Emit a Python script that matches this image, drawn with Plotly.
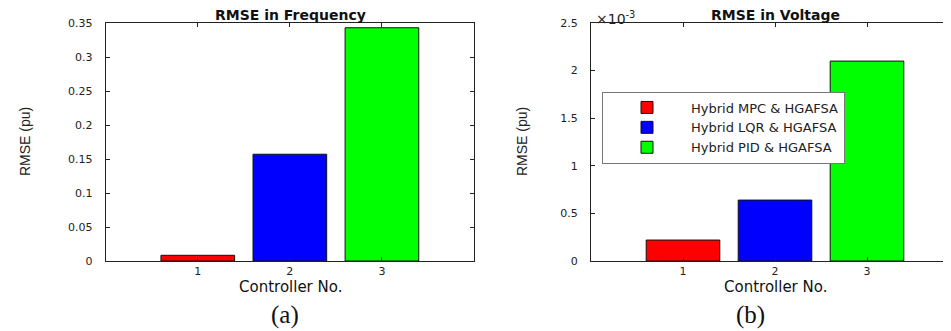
import plotly.graph_objects as go

controllers = [1, 2, 3]
series_names = ["Hybrid MPC & HGAFSA", "Hybrid LQR & HGAFSA", "Hybrid PID & HGAFSA"]
colors = ["#ff0000", "#0000ff", "#00ff00"]
rmse_frequency = [0.0084, 0.157, 0.343]
rmse_voltage = [0.00022, 0.00064, 0.00210]

freq_ticks = [0, 0.05, 0.1, 0.15, 0.2, 0.25, 0.3, 0.35]
freq_ticktext = ["0", "0.05", "0.1", "0.15", "0.2", "0.25", "0.3", "0.35"]
volt_ticks = [0, 0.0005, 0.001, 0.0015, 0.002, 0.0025]
volt_ticktext = ["0", "0.5", "1", "1.5", "2", "2.5"]

W, H = 951, 331
OFF = 8  # page body margin


def px(x):
    return (x - OFF) / W


def py(y):
    return (H - (y - OFF)) / H


TICKFONT = dict(family="DejaVu Sans", size=11, color="#222")

fig = go.Figure()
for c, v, n, col in zip(controllers, rmse_frequency, series_names, colors):
    fig.add_trace(go.Bar(x=[c], y=[v], width=0.8, name=n, marker=dict(color=col, line=dict(color="#111", width=1)),
                         xaxis="x", yaxis="y", showlegend=False))
for c, v, n, col in zip(controllers, rmse_voltage, series_names, colors):
    fig.add_trace(go.Bar(x=[c], y=[v], width=0.8, name=n, marker=dict(color=col, line=dict(color="#111", width=1)),
                         xaxis="x2", yaxis="y2", showlegend=True))

ydom = [py(261), py(23)]
common_x = dict(range=[0, 4], tickvals=controllers, ticks="inside", ticklen=4, tickcolor="#222",
                showline=True, linecolor="#222", linewidth=1, showgrid=False, zeroline=False, automargin=False,
                tickfont=TICKFONT, ticklabelstandoff=0)
common_y = dict(ticks="inside", ticklen=4, tickcolor="#222", showline=True, linecolor="#222", linewidth=1,
                showgrid=False, zeroline=False, automargin=False, tickfont=TICKFONT, ticklabelstandoff=10)

fig.update_layout(
    width=W, height=H, margin=dict(l=0, r=0, t=0, b=0),
    paper_bgcolor="white", plot_bgcolor="white",
    xaxis=dict(common_x, domain=[px(105.7), px(474)], anchor="y", mirror="allticks"),
    yaxis=dict(common_y, domain=ydom, anchor="x", range=[0, 0.35], tickvals=freq_ticks, ticktext=freq_ticktext, mirror="allticks"),
    xaxis2=dict(common_x, domain=[px(591), 1.0], anchor="y2", mirror="allticks"),
    yaxis2=dict(common_y, domain=ydom, anchor="x2", range=[0, 0.0025], tickvals=volt_ticks, ticktext=volt_ticktext),
    legend=dict(x=px(602), y=py(127.5), xanchor="left", yanchor="middle", bgcolor="white",
                bordercolor="#777", borderwidth=1, font=dict(family="DejaVu Sans", size=13, color="#222"),
                itemwidth=78, tracegroupgap=0),
    bargap=0.2,
)

ann_font = dict(family="DejaVu Sans", color="#111")
annots = [
    ("<b>RMSE in Frequency</b>", 290, 15, 14),
    ("<b>RMSE in Voltage</b>", 775, 15, 14),
    ("Controller No.", 290, 287, 15),
    ("Controller No.", 775, 287, 15),
]
for t, x, y, s in annots:
    fig.add_annotation(text=t, xref="paper", yref="paper", x=px(x), y=py(y), xanchor="center", yanchor="middle",
                       showarrow=False, font=dict(ann_font, size=s))
for x in (25, 522):
    fig.add_annotation(text="RMSE (pu)", xref="paper", yref="paper", x=px(x), y=py(142), xanchor="center",
                       yanchor="middle", textangle=-90, showarrow=False,
                       font=dict(family="Liberation Sans Narrow, Liberation Sans", size=14, color="#222"))
fig.add_annotation(text="×10<sup>-3</sup>", xref="paper", yref="paper", x=px(594), y=py(18), xanchor="left",
                   yanchor="middle", showarrow=False, font=dict(family="DejaVu Sans", size=14, color="#222"))
fig.add_annotation(text="(a)", xref="paper", yref="paper", x=px(285), y=py(315), xanchor="center", yanchor="middle",
                   showarrow=False, font=dict(family="Liberation Serif", size=25, color="#111"))
fig.add_annotation(text="(b)", xref="paper", yref="paper", x=px(750), y=py(315), xanchor="center", yanchor="middle",
                   showarrow=False, font=dict(family="Liberation Serif", size=25, color="#111"))

fig.write_html("out.html")
